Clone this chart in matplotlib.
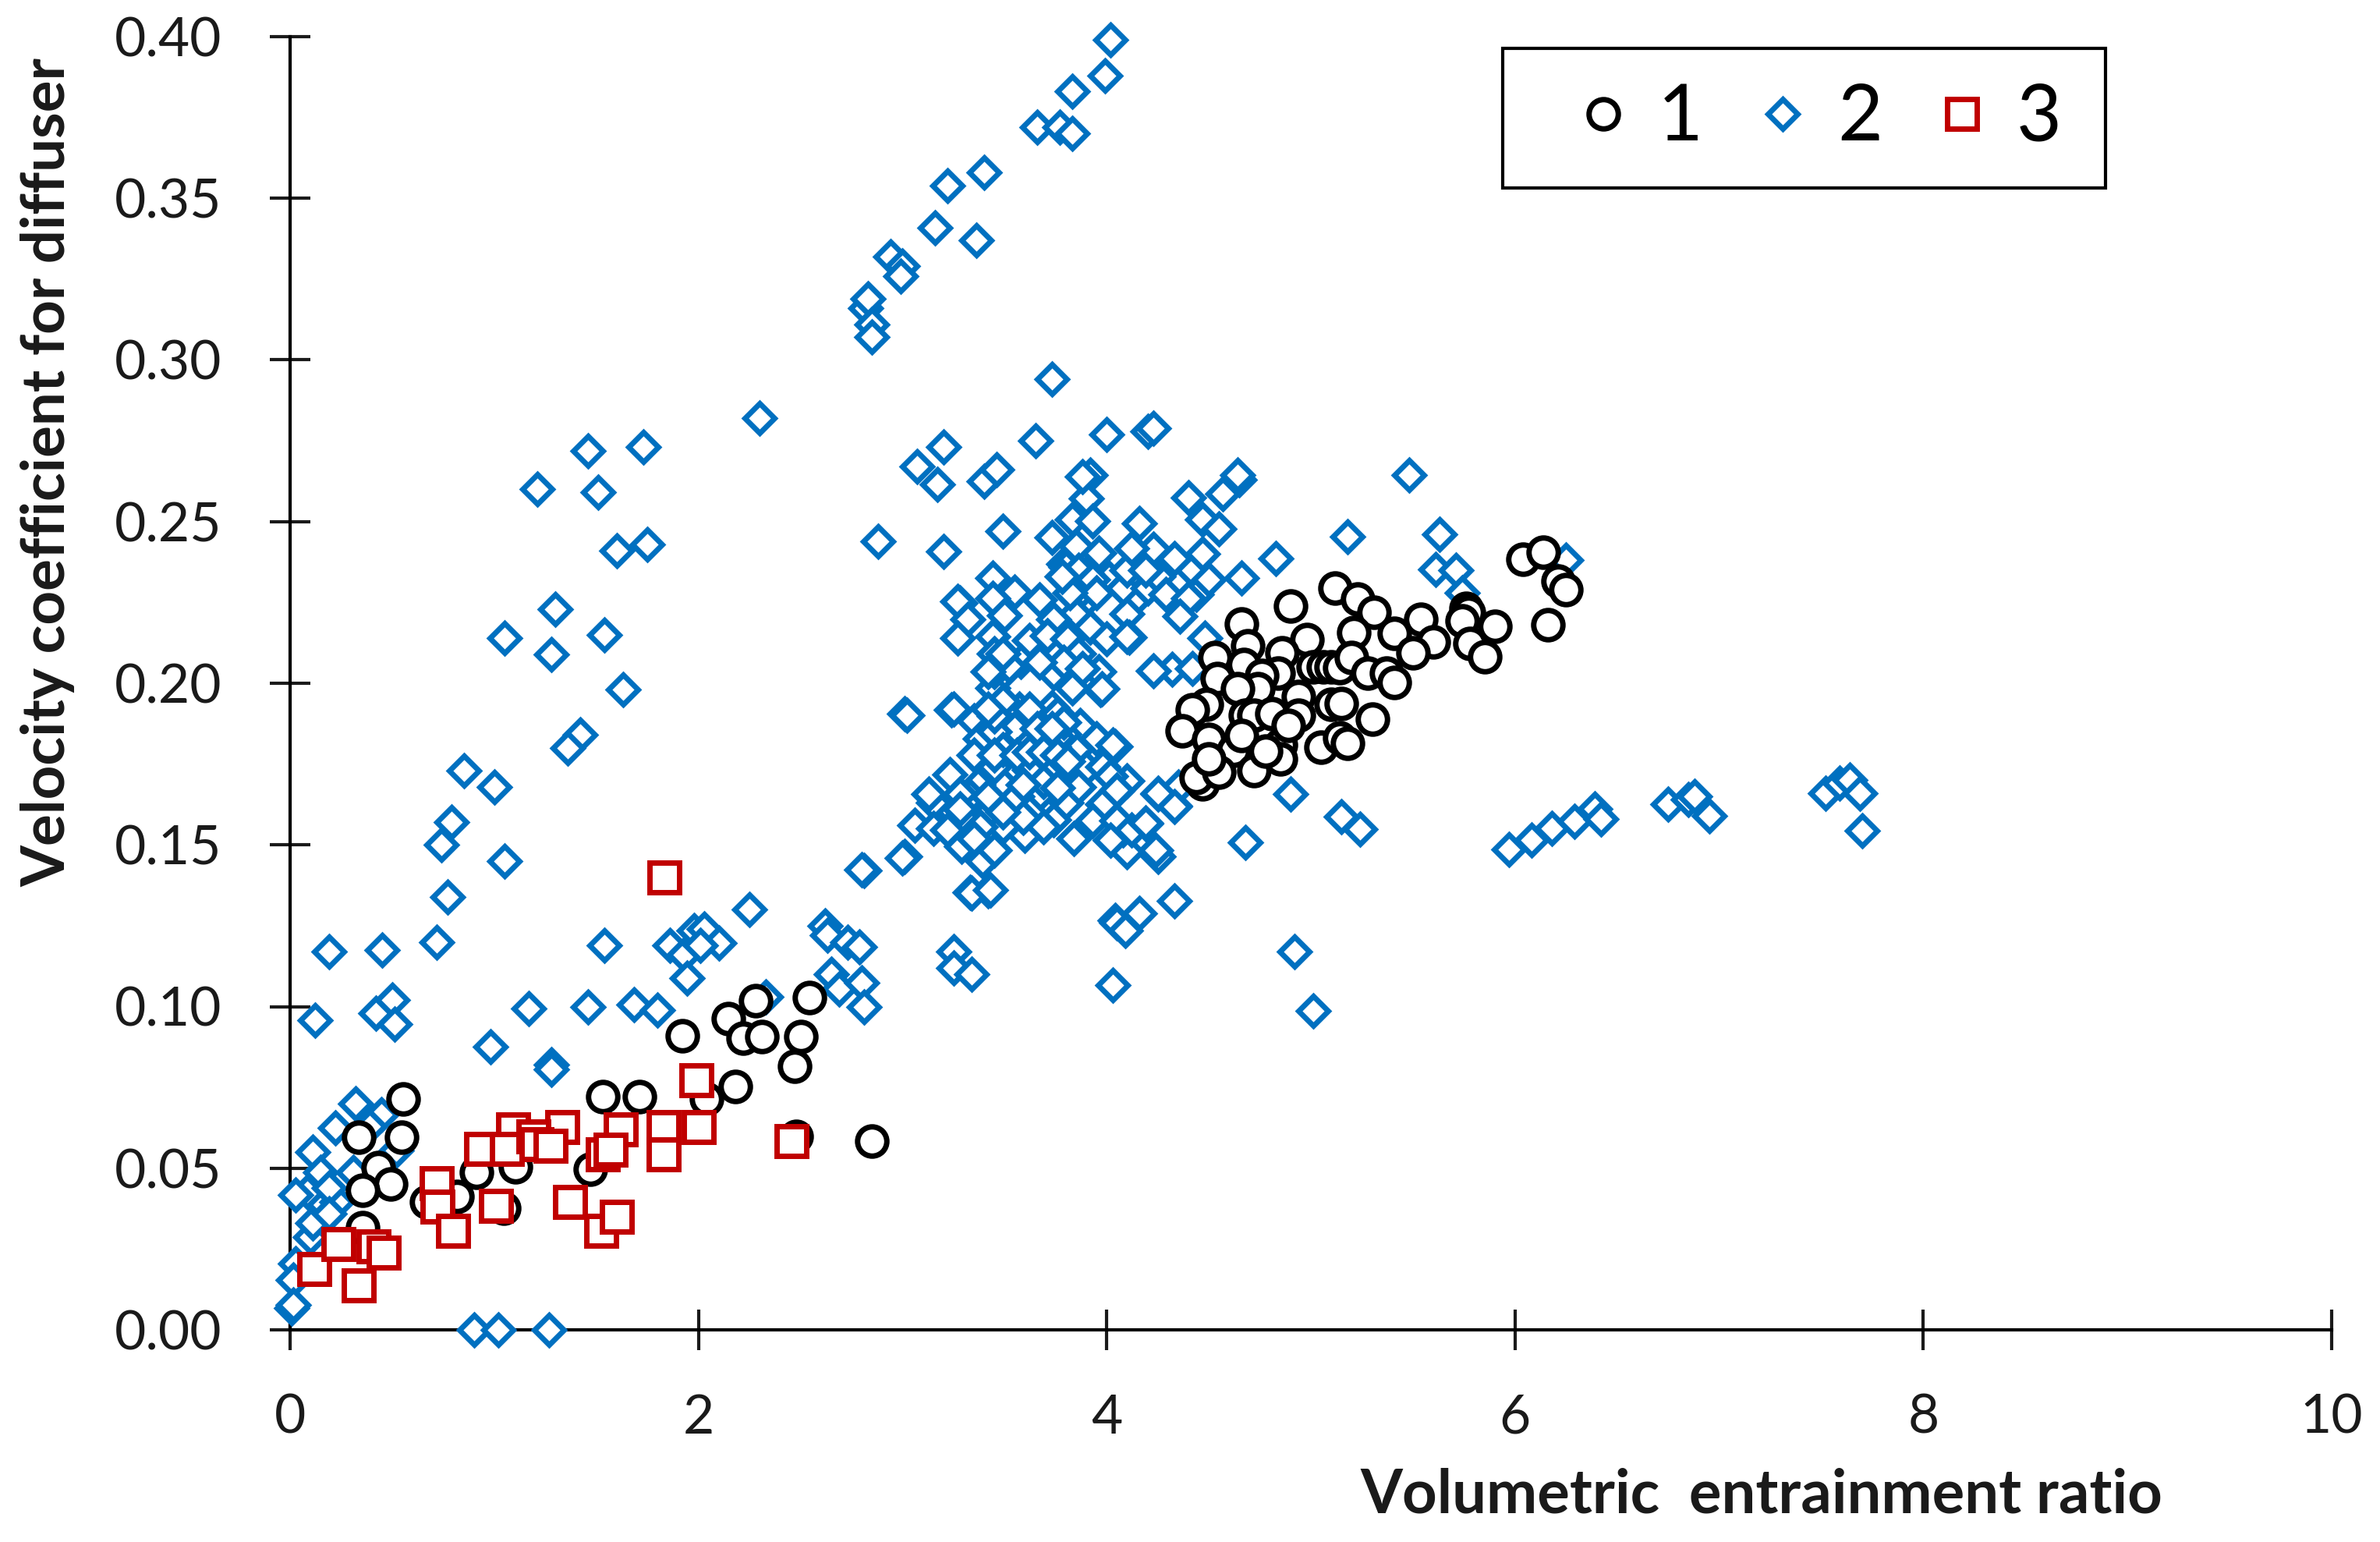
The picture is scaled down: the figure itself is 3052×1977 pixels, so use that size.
import matplotlib
matplotlib.use('Agg')
import matplotlib.pyplot as plt
from matplotlib.patches import Rectangle

# Series 2, upper branch
upper_x = [4.02, 3.99, 3.83, 3.66, 3.77, 3.83, 3.40, 3.22, 3.16, 3.36, 2.94, 3.00, 2.99, 2.82, 2.83, 2.85, 2.85]
upper_y = [.399, .388, .383, .372, .372, .370, .358, .354, .341, .337, .332, .329, .326, .316, .319, .311, .307]

# Series 2, left branch
left_x = [1.21, 1.46, 1.51, 1.73, 1.75, 1.60, 1.05, 1.30, 1.28, 1.54, 1.63, 1.42, 1.36, .85, 1.00, .79, .74, 1.05, .77, .72, 2.30]
left_y = [.260, .272, .259, .273, .243, .241, .214, .223, .209, .215, .198, .184, .180, .173, .168, .157, .150, .145, .134, .120, .282]

# Series 2, lower part up to x = 3
low_x = [.123, .19, .45, .42, .50, .51, 1.17, 1.46, 1.685, 1.80, .98, 1.28, 1.28, 1.54, 1.86, 1.98, 2.03, 2.10, 1.93, 2.01,
         1.945, 2.25, 2.33, 2.62, 2.63, 2.73, 2.79, 2.65, 2.69, 2.80, 2.81, 2.81,
         .32, .22, .11, .445, .15, .085, .025, .23, .19, .31, .10, .11, .025, .016, .006, .016, .19, .52, .39, .90, 1.02, 1.27]
low_y = [.0957, .117, .1176, .098, .102, .0945, .0995, .100, .1005, .099, .0875, .082, .0806, .119, .119, .1236, .124, .1196, .116, .119,
         .1088, .13, .103, .125, .122, .120, .1185, .110, .1055, .1074, .100, .142,
         .07, .0626, .055, .0667, .0487, .0427, .0418, .0395, .044, .0487, .0288, .033, .0205, .0154, .0067, .0076, .036, .0556, .063, 0, 0, 0]

# Series 2, dense cluster left of x = 4.1
dense_x = [2.88, 3.20, 3.49, 3.17, 3.40, 3.92, 3.90, 3.83, 3.93, 3.73, 3.85, 3.96, 4.23, 3.79, 4.01, 4.15, 4.42, 3.44, 3.55, 3.67,
           3.44, 3.28, 3.27, 3.32, 3.27, 3.44, 3.62, 3.50, 3.85, 3.92, 4.10, 4.00, 4.11, 3.73, 3.74, 3.58, 3.74, 3.44, 3.83, 3.97,
           3.96, 3.50, 3.01, 3.24, 3.35, 3.57, 3.73, 3.38, 3.55, 3.66, 3.87, 3.85, 4.04, 3.95, 3.23, 3.79, 3.45, 3.73, 3.90, 3.62,
           4.10, 4.05, 4.25, 4.33, 4.35, 3.80, 3.98, 3.49, 3.37, 3.25, 3.42, 3.15, 3.06, 3.15, 3.01, 3.29, 3.39, 3.60, 3.74, 3.84,
           4.02, 4.10, 4.19, 4.25, 3.52, 3.13, 3.66, 3.45, 3.56, 3.35, 3.69, 2.80, 3.33, 3.42, 4.04, 4.16, 4.33,
           3.81, 3.86, 3.90, 3.84, 3.91, 3.90, 3.45, 3.52, 3.74, 3.76, 3.33, 3.28, 3.62, 3.49, 3.42, 3.69, 3.45, 4.08]
dense_y = [.2439, .2407, .2471, .2615, .2624, .2645, .2571, .2506, .2502, .2451, .2425, .2402, .2414, .237, .2326, .2266, .235, .2326, .2283, .2257,
           .2262, .2248, .2253, .2199, .2139, .2144, .2133, .2211, .2216, .2174, .2214, .2137, .2142, .2105, .2197, .2068, .2031, .1985, .1985, .198,
           .2036, .2036, .1905, .1918, .1884, .1921, .1925, .1828, .1861, .1801, .187, .1796, .1805, .1828, .1718, .1842, .1851, .1736, .1736, .1732,
           .1699, .1667, .1658, .1621, .168, .163, .1626, .1686, .1686, .1603, .1598, .163, .1561, .1552, .1464, .1496, .145, .1529, .1579, .1519,
           .1515, .1478, .1566, .1464, .1593, .1658, .1649, .1741, .1649, .1778, .1695, .1423, .1354, .1358, .1266, .1289, .1326,
           .233, .2313, .2294, .2294, .2266, .234, .2036, .2054, .1805, .1833, .1649, .1658, .1602, .1556, .151, .1556, .1483, .1547]

# Series 2, half hidden diamonds inside the dense cluster
hidden_x = [3.80, 3.83, 3.86, 3.88, 3.93, 3.95, 3.82, 3.78, 4.08, 4.20, 4.25, 4.29, 4.44, 4.10, 4.19,
            3.71, 3.81, 3.86, 3.79, 3.88, 3.67, 3.45, 3.42, 3.49, 3.49, 3.45, 3.42, 3.62, 3.66, 3.76, 3.79, 3.73,
            3.49, 3.45, 3.56, 3.62, 3.69, 3.76, 3.81, 3.98, 4.02, 3.86, 3.76, 3.59, 3.42, 3.28, 3.38, 3.35, 3.22,
            3.59, 3.49, 3.93, 4.05, 4.12]
hidden_y = [.236, .231, .235, .229, .232, .228, .228, .233, .2294, .2294, .233, .2276, .2276, .235, .235,
            .2147, .2137, .2091, .2064, .2045, .2064, .2091, .2036, .2091, .1944, .1898, .192, .192, .186, .1907, .188, .186,
            .1796, .1778, .1778, .1787, .1787, .1778, .1759, .1741, .1713, .168, .1676, .1686, .1649, .1612, .1556, .1519, .1547,
            .1584, .1603, .1575, .1575, .1547]

# Series 2, around the black cluster and the tail on the right
right_x = [3.73, 4.20, 4.23, 4.00, 3.65, 3.20, 3.07, 3.46, 3.88, 4.65, 5.48, 5.18, 5.63, 5.61, 5.71, 5.74, 6.25, 4.83, 4.66, 4.40,
           4.57, 4.64, 4.16, 4.47, 4.55, 4.12, 4.47, 4.33, 4.50, 4.40, 4.36, 4.48, 4.32, 4.23, 4.42, 4.10, 3.975, 4.03, 4.05, 4.25,
           4.33, 4.19, 4.02, 4.24, 4.90, 5.15, 5.24, 4.68, 5.97, 6.08, 6.18, 6.29, 6.39, 6.42, 6.75, 6.85, 6.88, 6.95, 7.52, 7.59,
           7.64, 7.69, 7.70, 4.92, 5.01, 4.03, 4.05, 4.09, 3.25, 3.25, 3.34, 3.34, 3.43, 3.02, 3.25, 3.00]
right_y = [.294, .278, .279, .277, .275, .273, .267, .266, .264, .263, .2643, .2454, .2462, .2353, .2349, .228, .238, .2385, .2325, .2574,
           .2586, .2643, .2494, .2506, .2478, .2417, .2401, .2385, .2321, .2264, .2208, .214, .2043, .2039, .2047, .2144, .1983, .1809, .1669, .1661,
           .162, .1568, .1516, .1483, .1657, .1588, .1548, .1508, .1487, .1516, .1552, .1572, .1612, .158, .1625, .164, .165, .159, .166, .169,
           .170, .166, .1545, .117, .0987, .1066, .126, .1235, .117, .112, .110, .135, .136, .190, .192, .146]

# Series 1
circle_x = [.553, .336, .547, .43, .494, .354, .357, .67, .816, .914, 1.105, 1.045, 1.533, 1.71, 1.47, 1.92, 2.145, 2.22, 2.28, 2.31,
            2.50, 2.47, 2.545, 2.18, 2.04, 2.48, 2.85,
            6.04, 6.14, 6.21, 6.25, 6.16, 5.12, 5.23, 5.31, 4.90, 4.66, 5.54, 5.41, 5.21, 5.76, 5.77, 5.74, 5.90, 5.78, 5.85, 5.60, 5.50,
            4.98, 4.86, 4.69, 4.53, 4.67, 4.84, 5.01, 5.06, 5.10, 5.14, 5.20, 5.28, 5.37, 5.41, 4.54, 4.76, 4.74, 4.64, 4.49, 4.42,
            4.68, 4.72, 4.81, 4.94, 4.94, 5.10, 5.15, 5.30, 5.05, 5.14, 5.18, 4.37, 4.50, 4.62, 4.85, 4.85, 4.72, 4.47, 4.44, 4.55, 4.50,
            4.66, 4.78, 4.89]
circle_y = [.0713, .0595, .0595, .0503, .045, .0432, .0316, .0395, .0413, .0487, .0505, .0376, .0721, .0721, .0496, .091, .0963, .0903, .1017, .0908,
            .0906, .0815, .1028, .0753, .0713, .0598, .0584,
            .2384, .2405, .2317, .2289, .2182, .2295, .226, .2219, .2238, .2184, .2198, .2154, .2157, .2232, .222, .2192, .2176, .2123, .2083, .2128, .2095,
            .2136, .2095, .2115, .2079, .2059, .2031, .2051, .2051, .2051, .2049, .2079, .2031, .2031, .2003, .2015, .2023, .1983, .1983, .1936, .1918,
            .1902, .1902, .1906, .1958, .1902, .1934, .1938, .189, .1801, .183, .1814, .1854, .1826, .1793, .1809, .1765, .1729, .1689, .1709, .1725, .1765,
            .1838, .1789, .187]

# Series 3
square_x = [.12, .238, .338, .41, .46, .72, .723, .797, 1.01, 1.094, 1.334, .934, 1.06, 1.19, 1.207, 1.275, 1.62, 1.373, 1.523, 1.60,
            1.53, 1.568, 1.83, 1.83, 2.00, 1.99, 2.457, 1.835]
square_y = [.0189, .0265, .0138, .0259, .0238, .0453, .0381, .0307, .0383, .0621, .0628, .0559, .0559, .0598, .0575, .057, .0621, .0395, .0307, .0351,
            .0542, .0558, .0628, .0542, .0628, .0771, .0584, .140]

x_ticks = [0, 2, 4, 6, 8, 10]
y_ticks = [0.00, 0.05, 0.10, 0.15, 0.20, 0.25, 0.30, 0.35, 0.40]

plt.rcParams['font.family'] = ['Lato', 'DejaVu Sans']

fig = plt.figure(figsize=(30.52, 19.77), dpi=100)
ax = fig.add_axes([372 / 3052, 1 - 1705 / 1977, (2990 - 372) / 3052, (1705 - 47) / 1977])

# Series 2 goes in first, the white fill of 1 and 3 hides it
diamonds_x = upper_x + left_x + low_x + dense_x + hidden_x + right_x
diamonds_y = upper_y + left_y + low_y + dense_y + hidden_y + right_y
ax.plot(diamonds_x, diamonds_y, ls='none', marker='D', ms=19.5, mew=5, mec='#0070C0', mfc='white', clip_on=False, label='2', zorder=3)
ax.plot(circle_x, circle_y, ls='none', marker='o', ms=27, mew=5, mec='black', mfc='white', clip_on=False, label='1', zorder=4)
ax.plot(square_x, square_y, ls='none', marker='s', ms=27, mew=5, mec='#C00000', mfc='white', clip_on=False, label='3', zorder=5)

ax.set_xlim(0, 10)
ax.set_ylim(0, 0.40)
ax.set_xticks(x_ticks)
ax.set_yticks(y_ticks)
ax.set_yticklabels(['%.2f' % v for v in y_ticks])

ax.spines['top'].set_visible(False)
ax.spines['right'].set_visible(False)
ax.spines['left'].set_linewidth(3)
ax.spines['bottom'].set_linewidth(3)
ax.tick_params(axis='both', direction='inout', length=38, width=3, labelsize=50, colors='#1a1a1a')
ax.tick_params(axis='x', pad=40)
ax.tick_params(axis='y', pad=44)

fig.text(2259 / 3052, 1 - 1917 / 1977, 'Volumetric  entrainment ratio',
         ha='center', va='center', fontsize=56, fontweight='bold', color='#1a1a1a')
fig.text(61 / 3052, 1 - 606 / 1977, 'Velocity coefficient for diffuser', rotation=90,
         ha='center', va='center', fontsize=55, fontweight='bold', color='#1a1a1a')

# Legend box is drawn on its own so its size can be set exactly
ax.add_patch(Rectangle((1927 / 3052, 1 - 241 / 1977), 773 / 3052, 179 / 1977, transform=fig.transFigure,
                       fc='white', ec='black', lw=3, clip_on=False, zorder=9))

# Legend order is 1, 2, 3
handles, labels = ax.get_legend_handles_labels()
order = [1, 0, 2]
leg = ax.legend([handles[i] for i in order], [labels[i] for i in order], ncol=3, fontsize=72,
                loc='center', bbox_to_anchor=(2320 / 3052, 1 - 152 / 1977), bbox_transform=fig.transFigure,
                frameon=False, handletextpad=0.1, columnspacing=0.42, borderpad=0.35, handlelength=1.2)
leg.set_zorder(10)

fig.savefig('out.png', dpi=100)
